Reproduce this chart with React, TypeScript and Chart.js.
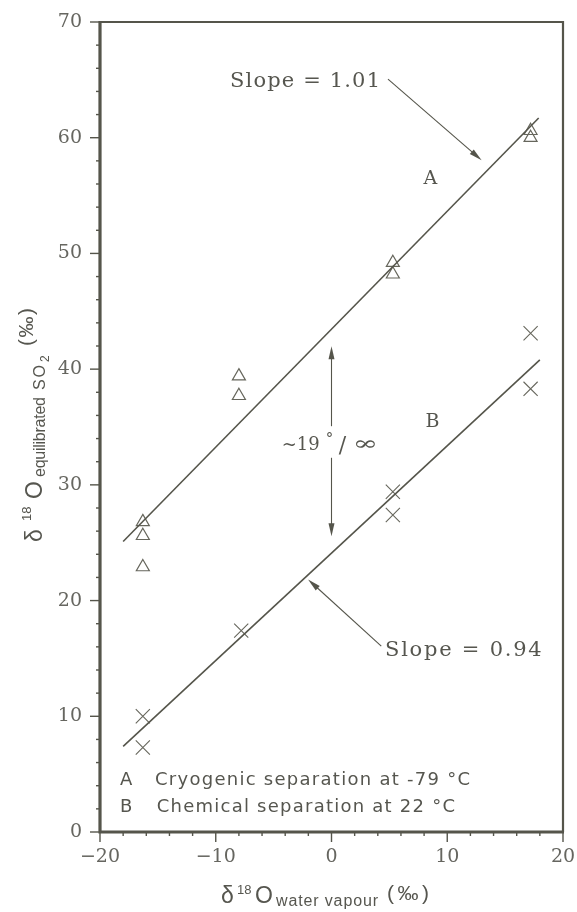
import { useEffect, useRef } from 'react';
import { Chart, registerables } from 'chart.js';

Chart.register(...registerables);

// ---- axis ranges / ticks ----
const X_MIN = -20;
const X_MAX = 20;
const Y_MIN = 0;
const Y_MAX = 70;
const TICK_STEP = 2;
const LABEL_STEP = 10;

// ---- data ----
// A: cryogenic separation at -79 °C (triangles)
const cryoX = [-16.3, -16.3, -16.3, -8.0, -8.0, 5.3, 5.3, 17.2, 17.2];
const cryoY = [26.8, 25.6, 22.9, 39.4, 37.7, 49.2, 48.2, 60.6, 60.0];
// B: chemical separation at 22 °C (crosses)
const chemX = [-16.3, -16.3, -7.8, 5.3, 5.3, 17.2, 17.2];
const chemY = [10.0, 7.3, 17.4, 29.4, 27.4, 43.1, 38.3];
// fitted lines (end points as drawn)
const fitAX = [-18.0, 17.9];
const fitAY = [25.1, 61.7];
const fitBX = [-18.0, 18.0];
const fitBY = [7.4, 40.8];

// ---- annotation texts ----
const slopeAText = 'Slope = 1.01';
const slopeBText = 'Slope = 0.94';
const labelA = 'A';
const labelB = 'B';
const legendA = 'Cryogenic separation at -79 °C';
const legendB = 'Chemical separation at 22 °C';

const INK = '#55554b';
const TEXT = '#56564f';
const SERIF = '"DejaVu Serif", "Liberation Serif", serif';
const SANS = '"DejaVu Sans", "Liberation Sans", sans-serif';
const TITLE_SANS = '"Liberation Sans", Arial, sans-serif';

function zip(xs: number[], ys: number[]) {
  return xs.map((x, i) => ({ x, y: ys[i] }));
}

function fitText(ctx: CanvasRenderingContext2D, text: string, x: number, y: number, w?: number) {
  (ctx as any).letterSpacing = '0px';
  if (w) {
    const m = ctx.measureText(text).width;
    const n = Array.from(text).length;
    if (n > 1) (ctx as any).letterSpacing = (w - m) / (n - 1) + 'px';
  }
  ctx.fillText(text, x, y);
  (ctx as any).letterSpacing = '0px';
}

function arrow(ctx: CanvasRenderingContext2D, x1: number, y1: number, x2: number, y2: number) {
  const ang = Math.atan2(y2 - y1, x2 - x1);
  const L = 13;
  const W = 3;
  ctx.beginPath();
  ctx.moveTo(x1, y1);
  ctx.lineTo(x2 - Math.cos(ang) * L * 0.6, y2 - Math.sin(ang) * L * 0.6);
  ctx.stroke();
  ctx.beginPath();
  ctx.moveTo(x2, y2);
  ctx.lineTo(x2 - Math.cos(ang) * L - Math.sin(ang) * W, y2 - Math.sin(ang) * L + Math.cos(ang) * W);
  ctx.lineTo(x2 - Math.cos(ang) * L + Math.sin(ang) * W, y2 - Math.sin(ang) * L - Math.cos(ang) * W);
  ctx.closePath();
  ctx.fill();
}

const zeroPad = (s: any) => {
  s.paddingLeft = 0;
  s.paddingRight = 0;
  s.paddingTop = 0;
  s.paddingBottom = 0;
};

const decorPlugin = {
  id: 'decor',
  afterDraw(chart: any) {
    const ctx: CanvasRenderingContext2D = chart.ctx;
    const xs = chart.scales.x;
    const ys = chart.scales.y;
    const { left, right, top, bottom } = chart.chartArea;
    const px = (v: number) => xs.getPixelForValue(v);
    const py = (v: number) => ys.getPixelForValue(v);

    ctx.save();
    ctx.strokeStyle = INK;
    ctx.fillStyle = INK;
    ctx.lineCap = 'butt';

    // frame
    ctx.lineWidth = 2.2;
    ctx.beginPath();
    ctx.moveTo(left, top);
    ctx.lineTo(right, top);
    ctx.lineTo(right, bottom);
    ctx.stroke();
    ctx.lineWidth = 3.2;
    ctx.beginPath();
    ctx.moveTo(left, top - 1);
    ctx.lineTo(left, bottom);
    ctx.lineTo(right + 1, bottom);
    ctx.stroke();

    // ticks
    ctx.lineWidth = 1.4;
    xs.ticks.forEach((t: any) => {
      const major = Math.abs(t.value % LABEL_STEP) < 1e-9;
      const x = px(t.value);
      ctx.beginPath();
      ctx.moveTo(x, bottom);
      ctx.lineTo(x, bottom + (major ? 10 : 4));
      ctx.stroke();
    });
    ys.ticks.forEach((t: any) => {
      const major = Math.abs(t.value % LABEL_STEP) < 1e-9;
      const y = py(t.value);
      ctx.beginPath();
      ctx.moveTo(left, y);
      ctx.lineTo(left - (major ? 10 : 4), y);
      ctx.stroke();
    });

    // annotations
    ctx.fillStyle = TEXT;
    ctx.textBaseline = 'alphabetic';
    ctx.textAlign = 'left';

    ctx.font = `21px ${SERIF}`;
    fitText(ctx, slopeAText, px(-8.77), py(64.34), px(4.19) - px(-8.77));
    fitText(ctx, slopeBText, px(4.62), py(15.17), px(18.16) - px(4.62));

    ctx.font = `19px ${SERIF}`;
    ctx.textAlign = 'center';
    ctx.fillText(labelA, px(8.55), py(56.0));
    ctx.fillText(labelB, px(8.73), py(34.96));
    ctx.textAlign = 'left';

    // ~19 °/∞
    const bx = px(-4.3);
    const by = py(33.05);
    ctx.font = `18px ${SERIF}`;
    ctx.fillText('~19', bx, by);
    ctx.font = `15px ${SERIF}`;
    ctx.fillText('°', bx + 44, by - 7);
    ctx.font = `22px ${SERIF}`;
    ctx.fillText('/', bx + 57, by + 2);
    ctx.save();
    ctx.translate(bx + 71, by);
    ctx.scale(1.5, 1);
    ctx.font = `20px ${SERIF}`;
    ctx.fillText('∞', 0, 0);
    ctx.restore();

    // arrows
    ctx.strokeStyle = INK;
    ctx.fillStyle = INK;
    ctx.lineWidth = 1.1;
    arrow(ctx, px(4.88), py(65.06), px(12.97), py(58.06));
    arrow(ctx, px(4.3), py(16.06), px(-2.02), py(21.82));
    arrow(ctx, px(0), py(35.07), px(0), py(41.98));
    arrow(ctx, px(0), py(32.34), px(0), py(25.56));

    // legend inside plot
    ctx.fillStyle = TEXT;
    ctx.font = `18px ${SANS}`;
    ctx.fillText(labelA, px(-18.27), py(4.1));
    ctx.fillText(labelB, px(-18.27), py(1.69));
    fitText(ctx, legendA, px(-15.25), py(4.1), px(11.97) - px(-15.25));
    fitText(ctx, legendB, px(-15.1), py(1.69), px(10.67) - px(-15.1));

    // x-axis title: δ18O water vapour (‰)
    ctx.fillStyle = TEXT;
    ctx.font = `23px ${TITLE_SANS}`;
    fitText(ctx, 'δ', 221, 903, 0);
    ctx.font = `13px ${TITLE_SANS}`;
    fitText(ctx, '18', 237, 894, 0);
    ctx.font = `23px ${TITLE_SANS}`;
    fitText(ctx, 'O', 255, 903, 0);
    ctx.font = `16px ${TITLE_SANS}`;
    fitText(ctx, 'water vapour', 276, 906, 102);
    ctx.font = `21px ${TITLE_SANS}`;
    fitText(ctx, '(‰)', 387, 900, 42);

    // y-axis title: δ18O equilibrated SO2 (‰)
    ctx.save();
    ctx.translate(42, 542);
    ctx.rotate(-Math.PI / 2);
    ctx.font = `23px ${TITLE_SANS}`;
    fitText(ctx, 'δ', 0, 0, 0);
    ctx.font = `13px ${TITLE_SANS}`;
    fitText(ctx, '18', 21, -11, 0);
    ctx.font = `23px ${TITLE_SANS}`;
    fitText(ctx, 'O', 43, 0, 0);
    ctx.font = `16px ${TITLE_SANS}`;
    fitText(ctx, 'equilibrated', 65, 3, 80);
    fitText(ctx, 'SO', 152, 3, 25);
    ctx.font = `12px ${TITLE_SANS}`;
    fitText(ctx, '2', 180, 7, 0);
    ctx.font = `21px ${TITLE_SANS}`;
    fitText(ctx, '(‰)', 196, -9, 38);
    ctx.restore();

    ctx.restore();
  },
};

export default function App() {
  const ref = useRef<HTMLCanvasElement | null>(null);

  useEffect(() => {
    document.body.style.margin = '0';
    document.body.style.background = '#ffffff';
    const canvas = ref.current;
    if (!canvas) return;
    const chart = new Chart(canvas, {
      type: 'scatter',
      data: {
        datasets: [
          {
            label: 'A fit',
            data: zip(fitAX, fitAY),
            showLine: true,
            borderColor: INK,
            borderWidth: 1.6,
            pointRadius: 0,
            fill: false,
          },
          {
            label: 'B fit',
            data: zip(fitBX, fitBY),
            showLine: true,
            borderColor: INK,
            borderWidth: 1.6,
            pointRadius: 0,
            fill: false,
          },
          {
            label: 'A',
            data: zip(cryoX, cryoY),
            pointStyle: 'triangle',
            pointRadius: 7.5,
            borderColor: '#66665c',
            backgroundColor: 'rgba(0,0,0,0)',
            pointBorderWidth: 1.2,
          },
          {
            label: 'B',
            data: zip(chemX, chemY),
            pointStyle: 'crossRot',
            pointRadius: 10,
            borderColor: '#66665c',
            backgroundColor: 'rgba(0,0,0,0)',
            pointBorderWidth: 1.1,
          },
        ],
      },
      options: {
        responsive: false,
        animation: false,
        events: [],
        layout: { padding: { left: 0, top: 22, right: 14, bottom: 0 } },
        plugins: {
          legend: { display: false },
          tooltip: { enabled: false },
          title: { display: false },
        },
        scales: {
          x: {
            type: 'linear',
            min: X_MIN,
            max: X_MAX,
            border: { display: false },
            grid: { display: false, drawTicks: false },
            ticks: {
              stepSize: TICK_STEP,
              autoSkip: false,
              maxRotation: 0,
              padding: 14,
              color: '#666660',
              font: { family: SERIF, size: 19 },
              callback: (v: any) =>
                Math.abs(Number(v) % LABEL_STEP) < 1e-9 ? String(v).replace('-', '\u2212') : '',
            },
            afterFit: (s: any) => {
              s.height = 80;
              zeroPad(s);
            },
          },
          y: {
            type: 'linear',
            min: Y_MIN,
            max: Y_MAX,
            border: { display: false },
            grid: { display: false, drawTicks: false },
            ticks: {
              stepSize: TICK_STEP,
              autoSkip: false,
              padding: 18,
              color: '#666660',
              font: { family: SERIF, size: 19 },
              callback: (v: any) => (Math.abs(Number(v) % LABEL_STEP) < 1e-9 ? String(v) : ''),
            },
            afterFit: (s: any) => {
              s.width = 100;
              zeroPad(s);
            },
          },
        },
      },
      plugins: [decorPlugin],
    });
    return () => chart.destroy();
  }, []);

  return (
    <div style={{ position: 'absolute', left: 0, top: 0, width: 577, height: 912, background: '#fff' }}>
      <canvas ref={ref} width={577} height={912} />
    </div>
  );
}
